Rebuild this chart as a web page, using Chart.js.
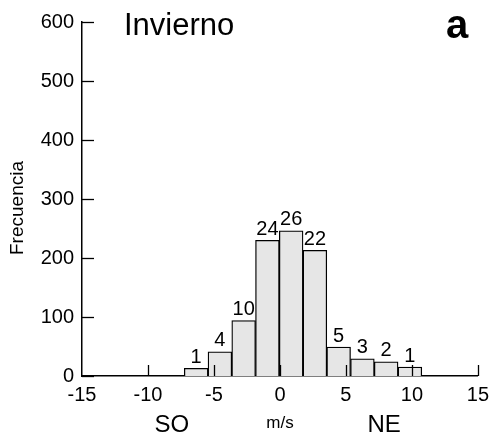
<!DOCTYPE html>
<html>
<head>
<meta charset="utf-8">
<script src="https://cdn.jsdelivr.net/npm/chart.js@4"></script>
<style>
  html, body { margin: 0; padding: 0; background: #fff; }
  #wrap { width: 496px; height: 444px; }
</style>
</head>
<body>
<div id="wrap"><canvas id="chart"></canvas></div>
<script>
// bin centres (m/s), bin counts and the % labels written above each bar
var binCenters = [-6.35, -4.55, -2.75, -0.95, 0.85, 2.65, 4.45, 6.25, 8.05, 9.85];
var counts = [13, 41, 94, 230, 246, 213, 49, 29, 24, 15];
var pctLabels = ['1', '4', '10', '24', '26', '22', '5', '3', '2', '1'];
var xTicks = [-15, -10, -5, 0, 5, 10, 15];
var yTicks = [0, 100, 200, 300, 400, 500, 600];

var FONT = "'Liberation Sans', Arial, sans-serif";

// inward ticks, bar labels and the loose texts
var extras = {
    id: 'extras',
    afterDatasetsDraw: function(chart) {
        var ctx = chart.ctx;
        var xs = chart.scales.x, ys = chart.scales.y;
        var bottom = ys.getPixelForValue(0);
        var left = xs.getPixelForValue(-15);
        ctx.save();
        ctx.strokeStyle = '#000';
        ctx.lineWidth = 1.3;
        // y ticks pointing right
        yTicks.forEach(function(v) {
            var py = Math.round(ys.getPixelForValue(v)) + 0.5;
            ctx.beginPath();
            ctx.moveTo(left, py);
            ctx.lineTo(left + 12, py);
            ctx.stroke();
        });
        // x ticks pointing up
        xTicks.forEach(function(v) {
            if (v === -15) return;
            var px = Math.round(xs.getPixelForValue(v)) + 0.5;
            ctx.beginPath();
            ctx.moveTo(px, bottom);
            ctx.lineTo(px, bottom - 11);
            ctx.stroke();
        });

        // labels on top of the bars
        ctx.fillStyle = '#000';
        ctx.font = '20px ' + FONT;
        ctx.textAlign = 'center';
        ctx.textBaseline = 'bottom';
        var meta = chart.getDatasetMeta(0);
        meta.data.forEach(function(bar, i) {
            ctx.fillText(pctLabels[i], bar.x, bar.y - 1);
        });

        // title and panel letter
        ctx.textAlign = 'left';
        ctx.textBaseline = 'middle';
        ctx.font = '31px ' + FONT;
        ctx.fillText('Invierno', 124, 26);
        ctx.font = 'bold 40px ' + FONT;
        ctx.fillText('a', 446, 27);

        // direction labels under the axis
        ctx.textAlign = 'center';
        ctx.font = '24px ' + FONT;
        ctx.fillText('SO', xs.getPixelForValue(-8.2), 425);
        ctx.fillText('NE', xs.getPixelForValue(7.9), 425);
        ctx.font = '17px ' + FONT;
        ctx.fillText('m/s', xs.getPixelForValue(0), 423);

        // y title
        ctx.translate(18, 208);
        ctx.rotate(-Math.PI / 2);
        ctx.font = '19px ' + FONT;
        ctx.fillText('Frecuencia', 0, 0);
        ctx.restore();
    }
};

var data = binCenters.map(function(c, i) { return { x: c, y: counts[i] }; });

var options = {
    responsive: true,
    maintainAspectRatio: false,
    animation: false,
    events: [],
    layout: {
        padding: { left: 0, top: 22, right: 15, bottom: 0 }
    },
    plugins: {
        legend: { display: false },
        tooltip: { enabled: false }
    },
    scales: {
        x: {
            type: 'linear',
            min: -15,
            max: 15,
            offset: false,
            afterBuildTicks: function(s) { s.ticks = xTicks.map(function(v) { return { value: v }; }); },
            afterFit: function(s) { s.height = 68; },
            grid: { display: false, drawTicks: false, offset: false },
            border: { display: true, color: '#000', width: 1.5 },
            ticks: {
                color: '#000',
                padding: 7,
                maxRotation: 0,
                font: { family: FONT, size: 20 }
            }
        },
        y: {
            min: 0,
            max: 600,
            afterBuildTicks: function(s) { s.ticks = yTicks.map(function(v) { return { value: v }; }); },
            afterFit: function(s) { s.width = 82; },
            grid: { display: false, drawTicks: false },
            border: { display: true, color: '#000', width: 1.5 },
            ticks: {
                color: '#000',
                padding: 8,
                font: { family: FONT, size: 20 }
            }
        }
    }
};

var chart = new Chart(document.getElementById('chart'), {
    type: 'bar',
    data: {
        datasets: [{
            data: data,
            backgroundColor: '#e6e6e6',
            borderColor: '#000',
            borderWidth: 1.3,
            barPercentage: 1,
            categoryPercentage: 1
        }]
    },
    options: options,
    plugins: [extras]
});
</script>
</body>
</html>
